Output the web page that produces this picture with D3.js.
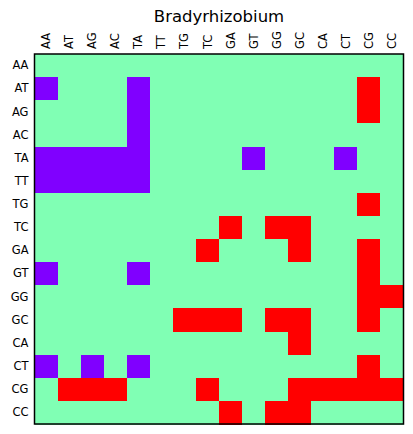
<!DOCTYPE html>
<html><head><meta charset="utf-8">
<script src="https://cdn.jsdelivr.net/npm/d3@7"></script>
<style>body{margin:0;background:#fff;}svg{display:block;}text{font-family:"DejaVu Sans",sans-serif;}</style>
</head><body>
<script>
const labels = ["AA","AT","AG","AC","TA","TT","TG","TC","GA","GT","GG","GC","CA","CT","CG","CC"];
const title = "Bradyrhizobium";
// -1 = purple, 0 = green, 1 = red
const matrix = [
 [ 0, 0, 0, 0, 0, 0, 0, 0, 0, 0, 0, 0, 0, 0, 0, 0],
 [-1, 0, 0, 0,-1, 0, 0, 0, 0, 0, 0, 0, 0, 0, 1, 0],
 [ 0, 0, 0, 0,-1, 0, 0, 0, 0, 0, 0, 0, 0, 0, 1, 0],
 [ 0, 0, 0, 0,-1, 0, 0, 0, 0, 0, 0, 0, 0, 0, 0, 0],
 [-1,-1,-1,-1,-1, 0, 0, 0, 0,-1, 0, 0, 0,-1, 0, 0],
 [-1,-1,-1,-1,-1, 0, 0, 0, 0, 0, 0, 0, 0, 0, 0, 0],
 [ 0, 0, 0, 0, 0, 0, 0, 0, 0, 0, 0, 0, 0, 0, 1, 0],
 [ 0, 0, 0, 0, 0, 0, 0, 0, 1, 0, 1, 1, 0, 0, 0, 0],
 [ 0, 0, 0, 0, 0, 0, 0, 1, 0, 0, 0, 1, 0, 0, 1, 0],
 [-1, 0, 0, 0,-1, 0, 0, 0, 0, 0, 0, 0, 0, 0, 1, 0],
 [ 0, 0, 0, 0, 0, 0, 0, 0, 0, 0, 0, 0, 0, 0, 1, 1],
 [ 0, 0, 0, 0, 0, 0, 1, 1, 1, 0, 1, 1, 0, 0, 1, 0],
 [ 0, 0, 0, 0, 0, 0, 0, 0, 0, 0, 0, 1, 0, 0, 0, 0],
 [-1, 0,-1, 0,-1, 0, 0, 0, 0, 0, 0, 0, 0, 0, 1, 0],
 [ 0, 1, 1, 1, 0, 0, 0, 1, 0, 0, 0, 1, 1, 1, 1, 1],
 [ 0, 0, 0, 0, 0, 0, 0, 0, 1, 0, 1, 1, 0, 0, 0, 0]
];
const colorValues = [-1, 0, 1];
const colorRange = ["#8000ff", "#80ffb4", "#ff0000"];

(function(){
const W = 413, H = 434;
const mLeft = 34.5, mTop = 54, mRight = 403.5, mBottom = 424;
const svg = d3.select("body").append("svg").attr("width", W).attr("height", H);
const x = d3.scaleBand().domain(labels).range([mLeft, mRight]);
const y = d3.scaleBand().domain(labels).range([mTop, mBottom]);
const color = d3.scaleOrdinal().domain(colorValues).range(colorRange);

const cells = [];
matrix.forEach((row, i) => row.forEach((v, j) => cells.push({r: labels[i], c: labels[j], v})));
svg.append("g").selectAll("rect").data(cells).join("rect")
  .attr("x", d => x(d.c)).attr("y", d => y(d.r))
  .attr("width", x.bandwidth() + 0.5).attr("height", y.bandwidth() + 0.5)
  .attr("fill", d => color(d.v)).attr("shape-rendering", "crispEdges");

svg.append("rect").attr("x", mLeft).attr("y", mTop).attr("width", mRight - mLeft).attr("height", mBottom - mTop)
  .attr("fill", "none").attr("stroke", "#000").attr("stroke-width", 1.5);

const xAxis = svg.append("g").attr("transform", `translate(0,${mTop})`)
  .call(d3.axisTop(x).tickSize(0).tickPadding(5));
xAxis.select(".domain").remove();
xAxis.selectAll("text").attr("font-size", 11.5).attr("fill", "#000")
  .attr("transform", "rotate(-90)").attr("text-anchor", "start")
  .attr("x", 5).attr("y", 0).attr("dy", "0.35em");

const yAxis = svg.append("g").attr("transform", `translate(${mLeft},0)`)
  .call(d3.axisLeft(y).tickSize(0).tickPadding(6));
yAxis.select(".domain").remove();
yAxis.selectAll("text").attr("font-size", 11.5).attr("fill", "#000");

svg.append("text").attr("x", (mLeft + mRight) / 2).attr("y", 22).attr("text-anchor", "middle")
  .attr("font-size", 16.5).attr("fill", "#000").text(title);
})();
</script>
</body></html>
